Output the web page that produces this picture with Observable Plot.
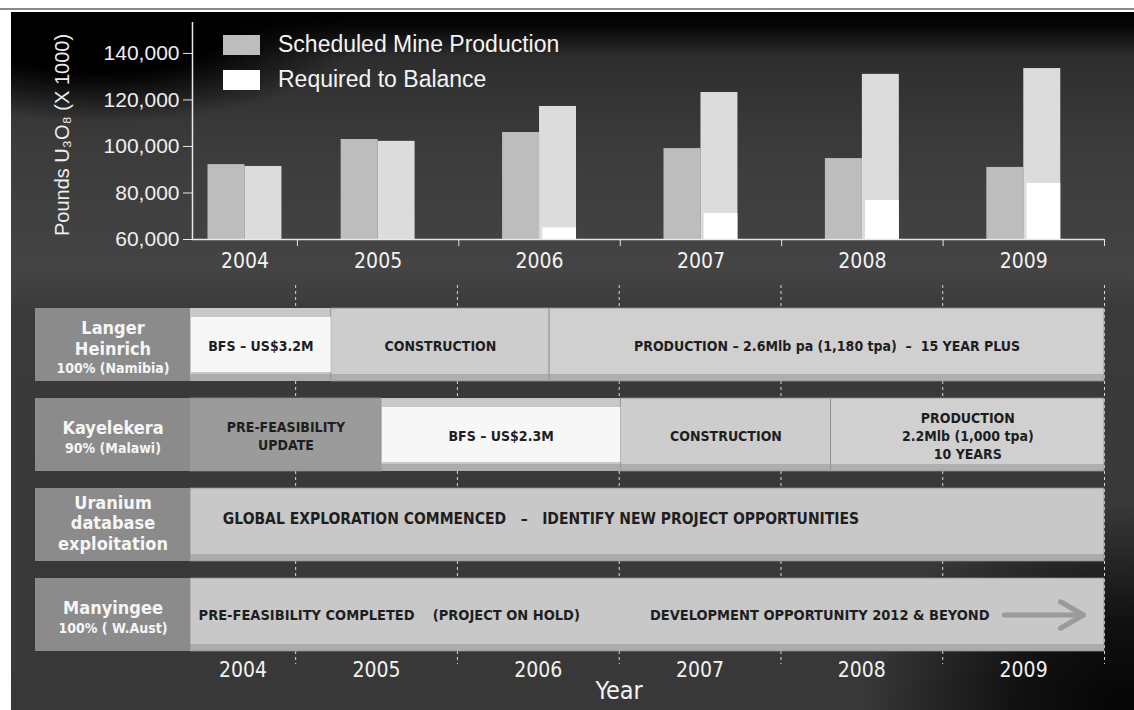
<!DOCTYPE html>
<html>
<head>
<meta charset="utf-8">
<script src="https://cdn.jsdelivr.net/npm/d3@7"></script>
<script src="https://cdn.jsdelivr.net/npm/@observablehq/plot@0.6"></script>
<style>
  html, body { margin: 0; padding: 0; background: #ffffff; }
  #page { position: relative; width: 1134px; height: 710px; overflow: hidden; font-family: "Liberation Sans", Arial, sans-serif; }
  #topline { position: absolute; left: 0; top: 8px; width: 1134px; height: 2px; background: #8a8a8a; }
  #bg { position: absolute; left: 11px; top: 12px; right: 0; bottom: 0;
        background:
          radial-gradient(ellipse 260px 90px at 90px 20px, #000 0%, #000 45%, rgba(0,0,0,0) 100%),
          radial-gradient(ellipse 260px 200px at 1110px 690px, #050505 0%, #111 40%, rgba(0,0,0,0) 100%),
          linear-gradient(180deg, #000 0px, #060606 14px, #2e2e2e 45px, #3c3c3c 140px, #444 260px, #3a3a3a 300px, #383838 100%); }
  .layer { position: absolute; left: 0; }
  #legend { position: absolute; left: 223px; top: 27px; color: #f4f4f4; font-size: 23px; line-height: 35px; }
  #legend .item { display: flex; align-items: center; height: 35px; }
  #legend .sw { display: inline-block; width: 37px; height: 20px; margin-right: 18px; }
</style>
</head>
<body>
<div id="page">
  <div id="topline"></div>
  <div id="bg"></div>
  <div id="topChart" class="layer" style="top:0"></div>
  <div id="ganttChart" class="layer" style="top:290px"></div>
  <div id="labelChart" class="layer" style="top:290px"></div>
  <div id="legend"></div>
</div>
<script>
// ---------- data ----------
const years = [2004, 2005, 2006, 2007, 2008, 2009];
const yearLabels = ["2004", "2005", "2006", "2007", "2008", "2009"];
const scheduled = [92200, 103000, 106000, 99100, 94800, 91000];
const required = [91400, 102200, 117200, 123200, 131000, 133500];
const requiredHighlight = [null, null, 65000, 71200, 76800, 84100];
const yTicks = [60000, 80000, 100000, 120000, 140000];
const yDomain = [60000, 153300];
const seriesNames = ["Scheduled Mine Production", "Required to Balance"];
const yAxisLabel = "Pounds U₃O₈ (X 1000)";
const xAxisLabel = "Year";
const timelineStart = 2003.85;
const timelineEnd = 2009.5;
const yearBoundaries = [2004.5, 2005.5, 2006.5, 2007.5, 2008.5, 2009.5];

const projects = ["Langer Heinrich", "Kayelekera", "Uranium database exploitation", "Manyingee"];
const projectTitles = ["Langer\nHeinrich", "Kayelekera", "Uranium\ndatabase\nexploitation", "Manyingee"];
const projectSubtitles = ["100% (Namibia)", "90% (Malawi)", "", "100% ( W.Aust)"];

const phaseProject = ["Langer Heinrich", "Langer Heinrich", "Langer Heinrich",
  "Kayelekera", "Kayelekera", "Kayelekera", "Kayelekera",
  "Uranium database exploitation", "Manyingee"];
const phaseStart = [2003.85, 2004.72, 2006.07, 2003.85, 2005.03, 2006.51, 2007.81, 2003.85, 2003.85];
const phaseEnd = [2004.72, 2006.07, 2009.5, 2005.03, 2006.51, 2007.81, 2009.5, 2009.5, 2009.5];
const phaseKind = ["bfs", "construction", "production", "prefeasibility", "bfs", "construction", "production", "exploration", "hold"];
const phaseLabel = ["BFS – US$3.2M", "CONSTRUCTION", "PRODUCTION – 2.6Mlb pa (1,180 tpa)  –  15 YEAR PLUS",
  "PRE-FEASIBILITY\nUPDATE", "BFS – US$2.3M", "CONSTRUCTION", "PRODUCTION\n2.2Mlb (1,000 tpa)\n10 YEARS", "", ""];

const noteProject = ["Uranium database exploitation", "Manyingee", "Manyingee"];
const noteAt = [2004.05, 2003.9, 2006.69];
const noteText = ["GLOBAL EXPLORATION COMMENCED   –   IDENTIFY NEW PROJECT OPPORTUNITIES",
  "PRE-FEASIBILITY COMPLETED    (PROJECT ON HOLD)", "DEVELOPMENT OPPORTUNITY 2012 & BEYOND"];
const arrowProject = ["Manyingee"];
const arrowFrom = [2008.88];
const arrowTo = [2009.37];

// ---------- derived tables ----------
const mids = years.map(y => (Math.max(y - 0.5, timelineStart) + Math.min(y + 0.5, timelineEnd)) / 2);
const bars = years.map((y, i) => ({year: y, label: yearLabels[i], mid: mids[i],
  scheduled: scheduled[i], required: required[i], highlight: requiredHighlight[i]}));
const phases = phaseProject.map((p, i) => ({project: p, start: phaseStart[i], end: phaseEnd[i], kind: phaseKind[i], label: phaseLabel[i]}));
const notes = noteProject.map((p, i) => ({project: p, at: noteAt[i], text: noteText[i]}));
const arrows = arrowProject.map((p, i) => ({project: p, from: arrowFrom[i], to: arrowTo[i]}));
const labels = projects.map((p, i) => ({project: p, title: projectTitles[i], sub: projectSubtitles[i],
  nTitle: projectTitles[i].split("\n").length}));

const barW = 0.229;
const condensed = "'DejaVu Sans Condensed', 'DejaVu Sans', sans-serif";
const kindFill = {bfs: "#f7f7f7", construction: "#cdcdcd", production: "#d0d0d0", prefeasibility: "#9b9b9b", exploration: "#c8c8c8", hold: "#c8c8c8"};

// ---------- top bar chart ----------
const topPlot = Plot.plot({
  width: 1134, height: 290,
  marginLeft: 192, marginRight: 30, marginTop: 22, marginBottom: 51,
  x: {domain: [timelineStart, timelineEnd], axis: null},
  y: {domain: yDomain, axis: null},
  style: {background: "transparent", color: "#efefef", fontFamily: "'Liberation Sans', Arial, sans-serif", overflow: "visible"},
  marks: [
    Plot.rect(bars, {x1: d => d.mid - barW, x2: "mid", y1: () => yDomain[0], y2: "scheduled", fill: "#bdbdbd"}),
    Plot.rect(bars, {x1: "mid", x2: d => d.mid + barW, y1: () => yDomain[0], y2: "required", fill: "#dcdcdc"}),
    Plot.rect(bars.filter(d => d.highlight != null), {x1: d => d.mid + 0.02, x2: d => d.mid + barW, y1: () => yDomain[0], y2: "highlight", fill: "#ffffff"}),
    Plot.ruleX([timelineStart], {stroke: "#e8e8e8", strokeWidth: 1.5}),
    Plot.ruleY([yDomain[0]], {stroke: "#e8e8e8", strokeWidth: 1.5}),
    Plot.ruleX(yearBoundaries, {y1: () => yDomain[0], y2: () => yDomain[0], insetBottom: -7, stroke: "#e8e8e8"}),
    Plot.axisY({ticks: yTicks, tickFormat: d3.format(","), tickSize: 9, tickPadding: 4, fontSize: 21, label: null, stroke: "#e8e8e8"}),
    Plot.text(bars, {x: "mid", text: "label", frameAnchor: "bottom", lineAnchor: "top", dy: 14, fontSize: 21, fontFamily: condensed, fill: "#f2f2f2"}),
    Plot.text([yAxisLabel], {frameAnchor: "left", textAnchor: "middle", rotate: -90, dx: -130, dy: 4, fontSize: 20, fill: "#eeeeee"})
  ]
});
document.getElementById("topChart").append(topPlot);

// legend
const legend = document.getElementById("legend");
const swFill = ["#bdbdbd", "#ffffff"];
seriesNames.forEach((name, i) => {
  const item = document.createElement("div");
  item.className = "item";
  const sw = document.createElement("span");
  sw.className = "sw";
  sw.style.background = swFill[i];
  item.append(sw, document.createTextNode(name));
  legend.append(item);
});

// ---------- gantt panel ----------
const yBand = {domain: projects, type: "band", paddingInner: 0.19, paddingOuter: 0.1, axis: null};
const ganttPlot = Plot.plot({
  width: 1134, height: 420,
  marginLeft: 190, marginRight: 30, marginTop: 9, marginBottom: 50,
  x: {domain: [timelineStart, timelineEnd], axis: null},
  y: yBand,
  style: {background: "transparent", color: "#efefef", overflow: "visible"},
  marks: [
    Plot.ruleX(yearBoundaries, {stroke: "#d8d8d8", strokeDasharray: "3,3", insetTop: -14, insetBottom: -4}),
    Plot.barX(projects, {x1: () => timelineStart, x2: () => timelineEnd, y: d => d, fill: "#c8c8c8"}),
    Plot.barX(phases.filter(d => d.kind !== "bfs"), {x1: "start", x2: "end", y: "project", fill: d => kindFill[d.kind], stroke: "#8a8a8a", strokeWidth: 0.8}),
    Plot.barX(phases.filter(d => d.kind === "bfs"), {x1: "start", x2: "end", y: "project", fill: d => kindFill[d.kind], insetTop: 9, insetBottom: 9, insetLeft: 1}),
    Plot.barX(projects, {x1: () => timelineStart, x2: () => timelineEnd, y: d => d, fill: "#9a9a9a", fillOpacity: 0.6, insetTop: 66}),
    Plot.text(phases, {x: d => (d.start + d.end) / 2, y: "project", text: "label", fontSize: 14, fontWeight: "bold", fontFamily: condensed, fill: "#1e1e1e", lineHeight: 1.3}),
    Plot.text(notes.slice(0, 1), {x: "at", y: "project", text: "text", textAnchor: "start", dy: -6, fontSize: 15.5, fontWeight: "bold", fontFamily: condensed, fill: "#1e1e1e"}),
    Plot.text(notes.slice(1), {x: "at", y: "project", text: "text", textAnchor: "start", fontSize: 14.5, fontWeight: "bold", fontFamily: condensed, fill: "#1e1e1e"}),
    Plot.arrow(arrows, {x1: "from", x2: "to", y1: "project", y2: "project", stroke: "#9a9a9a", strokeWidth: 5, headLength: 11}),
    Plot.text(bars, {x: "mid", text: "label", frameAnchor: "bottom", lineAnchor: "top", dy: 2, fontSize: 21, fontFamily: condensed, fill: "#f2f2f2"}),
    Plot.text([xAxisLabel], {x: () => 2006.5, frameAnchor: "bottom", lineAnchor: "top", dy: 21, fontSize: 25, fontFamily: condensed, fill: "#f2f2f2"})
  ]
});
document.getElementById("ganttChart").append(ganttPlot);

// label column (same band layout as the gantt rows)
const labelMarks = [Plot.cell(labels, {y: "project", fill: "#8b8b8b"})];
labels.forEach(l => {
  const hasSub = l.sub !== "";
  labelMarks.push(Plot.text([l], {y: "project", text: "title", frameAnchor: "middle",
    lineAnchor: "middle", dy: hasSub ? -7 : -2,
    fontSize: 18, lineHeight: 1.12, fontWeight: "bold", fontFamily: condensed, fill: "#f6f6f6"}));
  if (hasSub) labelMarks.push(Plot.text([l], {y: "project", text: "sub", frameAnchor: "middle",
    lineAnchor: "middle", dy: l.nTitle * 10 + 4, fontSize: 14, fontWeight: "bold", fontFamily: condensed, fill: "#f6f6f6"}));
});
const labelPlot = Plot.plot({
  width: 190, height: 420,
  marginLeft: 35, marginRight: 0, marginTop: 9, marginBottom: 50,
  y: yBand,
  style: {background: "transparent", overflow: "visible"},
  marks: labelMarks
});
document.getElementById("labelChart").append(labelPlot);
</script>
</body>
</html>
